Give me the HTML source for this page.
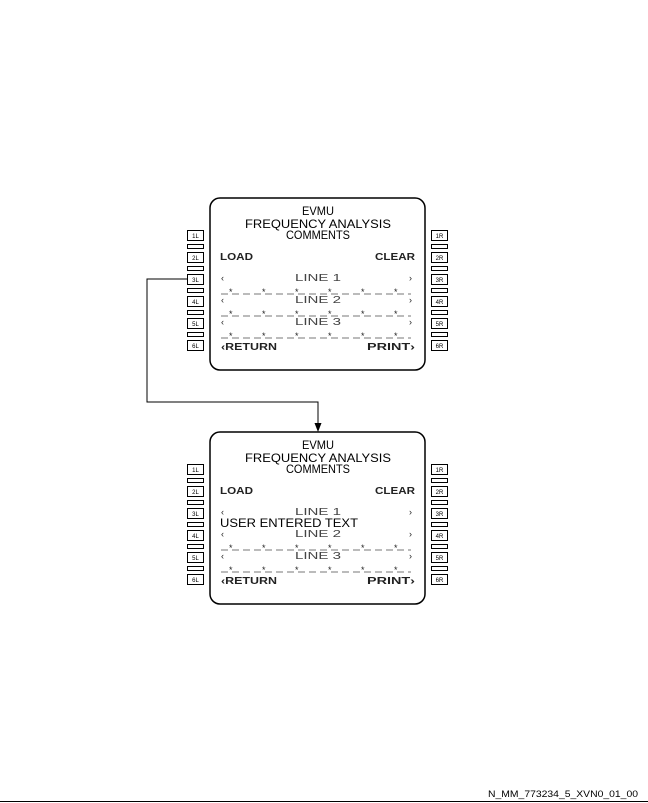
<!DOCTYPE html>
<html><head><style>
html,body{margin:0;padding:0;background:#fff;}
svg{display:block;}
text{font-family:"Liberation Sans",sans-serif;font-size:12px;fill:#000;}
.g{fill:#444;}
.s{font-size:9px;fill:#222;}
.k{font-family:"Liberation Sans",sans-serif;font-size:6px;}
</style></head><body>
<svg width="648" height="803" viewBox="0 0 648 803" xmlns="http://www.w3.org/2000/svg">
<defs>
<g id="panel">
  <rect x="210" y="198" width="215" height="172" rx="10" ry="10" fill="none" stroke="#000" stroke-width="1.5"/>
  <text x="318" y="215" text-anchor="middle" textLength="32" lengthAdjust="spacingAndGlyphs">EVMU</text>
  <text x="318" y="228" text-anchor="middle" textLength="146" lengthAdjust="spacingAndGlyphs">FREQUENCY ANALYSIS</text>
  <text x="318" y="239" text-anchor="middle" textLength="64" lengthAdjust="spacingAndGlyphs">COMMENTS</text>
  <text x="220" y="260" textLength="33" lengthAdjust="spacingAndGlyphs" font-weight="bold" style="font-size:10px;fill:#222">LOAD</text>
  <text x="375" y="260" textLength="40" lengthAdjust="spacingAndGlyphs" font-weight="bold" style="font-size:10px;fill:#222">CLEAR</text>
  <text x="221" y="350" textLength="56" lengthAdjust="spacingAndGlyphs" font-weight="bold" style="font-size:10px;fill:#222">‹RETURN</text>
  <text x="367" y="350" textLength="48" lengthAdjust="spacingAndGlyphs" font-weight="bold" style="font-size:10px;fill:#222">PRINT›</text>
  <g fill="none" stroke="#000" stroke-width="1">
    <rect x="187.5" y="230.5" width="16" height="10"/><rect x="187.5" y="244.5" width="16" height="4"/>
    <rect x="187.5" y="252.5" width="16" height="10"/><rect x="187.5" y="266.5" width="16" height="4"/>
    <rect x="187.5" y="274.5" width="16" height="10"/><rect x="187.5" y="288.5" width="16" height="4"/>
    <rect x="187.5" y="296.5" width="16" height="10"/><rect x="187.5" y="310.5" width="16" height="4"/>
    <rect x="187.5" y="318.5" width="16" height="10"/><rect x="187.5" y="332.5" width="16" height="4"/>
    <rect x="187.5" y="340.5" width="16" height="10"/>
    <rect x="431.5" y="230.5" width="16" height="10"/><rect x="431.5" y="244.5" width="16" height="4"/>
    <rect x="431.5" y="252.5" width="16" height="10"/><rect x="431.5" y="266.5" width="16" height="4"/>
    <rect x="431.5" y="274.5" width="16" height="10"/><rect x="431.5" y="288.5" width="16" height="4"/>
    <rect x="431.5" y="296.5" width="16" height="10"/><rect x="431.5" y="310.5" width="16" height="4"/>
    <rect x="431.5" y="318.5" width="16" height="10"/><rect x="431.5" y="332.5" width="16" height="4"/>
    <rect x="431.5" y="340.5" width="16" height="10"/>
  </g>
  <g class="k">
    <text x="195.5" y="238" text-anchor="middle" class="k">1L</text>
    <text x="195.5" y="260" text-anchor="middle" class="k">2L</text>
    <text x="195.5" y="282" text-anchor="middle" class="k">3L</text>
    <text x="195.5" y="304" text-anchor="middle" class="k">4L</text>
    <text x="195.5" y="326" text-anchor="middle" class="k">5L</text>
    <text x="195.5" y="348" text-anchor="middle" class="k">6L</text>
    <text x="439.5" y="238" text-anchor="middle" class="k">1R</text>
    <text x="439.5" y="260" text-anchor="middle" class="k">2R</text>
    <text x="439.5" y="282" text-anchor="middle" class="k">3R</text>
    <text x="439.5" y="304" text-anchor="middle" class="k">4R</text>
    <text x="439.5" y="326" text-anchor="middle" class="k">5R</text>
    <text x="439.5" y="348" text-anchor="middle" class="k">6R</text>
  </g>
</g>
<g id="lbl">
  <text x="221" y="0" class="s">‹</text>
  <text x="409" y="0" class="s">›</text>
</g>
<g id="stars">
  <text x="229" y="3" class="s">*</text><text x="262" y="3" class="s">*</text>
  <text x="295" y="3" class="s">*</text><text x="328" y="3" class="s">*</text>
  <text x="361" y="3" class="s">*</text><text x="394" y="3" class="s">*</text>
  <line x1="221" y1="2" x2="411" y2="2" stroke="#777" stroke-width="1" stroke-dasharray="7,4"/>
</g>
</defs>

<use href="#panel"/>
<use href="#lbl" y="281"/><text x="318" y="281" text-anchor="middle" class="g" textLength="46" lengthAdjust="spacingAndGlyphs" style="font-size:10px">LINE 1</text>
<use href="#stars" y="292"/>
<use href="#lbl" y="303"/><text x="318" y="303" text-anchor="middle" class="g" textLength="46" lengthAdjust="spacingAndGlyphs" style="font-size:10px">LINE 2</text>
<use href="#stars" y="314"/>
<use href="#lbl" y="325"/><text x="318" y="325" text-anchor="middle" class="g" textLength="46" lengthAdjust="spacingAndGlyphs" style="font-size:10px">LINE 3</text>
<use href="#stars" y="336"/>

<polyline points="187,279 147,279 147,402 318,402 318,424" fill="none" stroke="#000" stroke-width="1"/>
<polygon points="314.5,423 321.5,423 318,432" fill="#000"/>

<g transform="translate(0,234)">
<use href="#panel"/>
<use href="#lbl" y="281"/><text x="318" y="281" text-anchor="middle" class="g" textLength="46" lengthAdjust="spacingAndGlyphs" style="font-size:10px">LINE 1</text>
<text x="220" y="293" textLength="138" lengthAdjust="spacingAndGlyphs">USER ENTERED TEXT</text>
<use href="#lbl" y="303"/><text x="318" y="303" text-anchor="middle" class="g" textLength="46" lengthAdjust="spacingAndGlyphs" style="font-size:10px">LINE 2</text>
<use href="#stars" y="314"/>
<use href="#lbl" y="325"/><text x="318" y="325" text-anchor="middle" class="g" textLength="46" lengthAdjust="spacingAndGlyphs" style="font-size:10px">LINE 3</text>
<use href="#stars" y="336"/>
</g>

<text x="488" y="797" style="font-family:'Liberation Sans',sans-serif;font-size:9px" textLength="150" lengthAdjust="spacingAndGlyphs">N_MM_773234_5_XVN0_01_00</text>
<line x1="0" y1="801.5" x2="648" y2="801.5" stroke="#000" stroke-width="1"/>
</svg>
</body></html>
